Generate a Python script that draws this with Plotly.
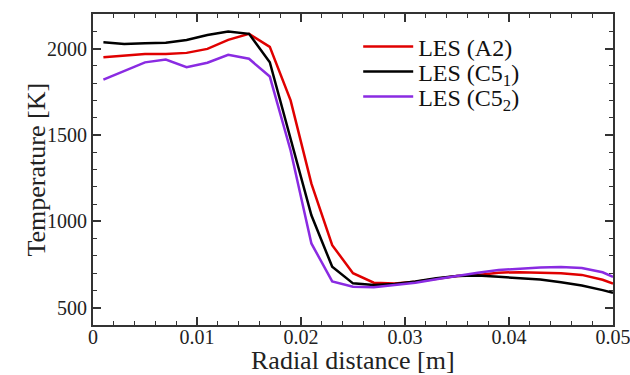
import plotly.graph_objects as go

x_m = [0.001, 0.003, 0.005, 0.007, 0.009, 0.011, 0.013, 0.015, 0.017, 0.019,
       0.021, 0.023, 0.025, 0.027, 0.029, 0.031, 0.033, 0.035, 0.037, 0.039,
       0.041, 0.043, 0.045, 0.047, 0.049, 0.050]

T_A2 = [1950, 1958, 1969, 1969, 1975, 1998, 2050, 2085, 2010, 1700,
        1218, 862, 700, 645, 640, 650, 668, 683, 690, 703,
        706, 703, 700, 690, 662, 640]

T_C5_1 = [2036, 2027, 2030, 2033, 2050, 2079, 2098, 2085, 1921, 1480,
          1035, 737, 641, 631, 637, 652, 670, 683, 686, 679,
          673, 664, 648, 629, 602, 587]

T_C5_2 = [1820, 1868, 1920, 1936, 1892, 1918, 1964, 1941, 1838, 1410,
          872, 652, 621, 618, 632, 644, 665, 685, 703, 718,
          727, 733, 735, 730, 705, 678]

x_tickvals = [0, 0.01, 0.02, 0.03, 0.04, 0.0499999]
x_ticktext = ["0", "0.01", "0.02", "0.03", "0.04", "0.05"]
y_tickvals = [500, 1000, 1500, 2000]

names = ["LES (A2)", "LES (C5<sub>1</sub>)", "LES (C5<sub>2</sub>)"]
colors = ["#e00000", "#000000", "#8a2be2"]
series = [T_A2, T_C5_1, T_C5_2]
legends = ["legend", "legend2", "legend3"]

FONT = "Liberation Serif"

fig = go.Figure()
for name, col, ys, lg in zip(names, colors, series, legends):
    fig.add_trace(go.Scatter(x=x_m, y=ys, mode="lines", name=name,
                             line=dict(color=col, width=2.5), legend=lg))

leg_common = dict(font=dict(family=FONT, size=24, color="#111"),
                  bgcolor="rgba(0,0,0,0)", borderwidth=0,
                  xanchor="left", yanchor="middle", itemwidth=50,
                  tracegroupgap=0)
ys_leg = [47, 72, 97]
top, bottom = 14, 325
left, right = 93, 613
for lg, yp in zip(legends, ys_leg):
    yfrac = (bottom - yp) / (bottom - top)
    fig.update_layout(**{lg: dict(x=0.51, y=yfrac, **leg_common)})

axis_common = dict(showline=True, linecolor="#333", linewidth=2, mirror="ticks",
                   ticks="inside", ticklen=8, tickwidth=1.5, tickcolor="#333",
                   showgrid=False, zeroline=False, automargin=False,
                   ticklabeloverflow="allow",
                   tickfont=dict(family=FONT, size=20, color="#222"))

fig.update_xaxes(range=[0, 0.05], tickvals=x_tickvals, ticktext=x_ticktext,
                 ticklabelstandoff=-7,
                 minor=dict(ticks="inside", dtick=0.002, ticklen=4, tickcolor="#333", tickwidth=1),
                 **axis_common)
fig.update_yaxes(range=[400, 2200], tickvals=y_tickvals,
                 minor=dict(ticks="inside", tickvals=list(range(400, 2201, 100)), ticklen=4,
                            tickcolor="#333", tickwidth=1),
                 **axis_common)

fig.add_annotation(text="Temperature [K]", textangle=-90, showarrow=False,
                   xref="paper", yref="paper", x=(36 - left) / (right - left), y=0.5,
                   xanchor="center", yanchor="middle",
                   font=dict(family=FONT, size=26, color="#222"))
fig.add_annotation(text="Radial distance [m]", showarrow=False,
                   xref="paper", yref="paper", x=0.5, y=(bottom - 360) / (bottom - top),
                   xanchor="center", yanchor="middle",
                   font=dict(family=FONT, size=26, color="#222"))

fig.update_layout(width=630, height=375, margin=dict(l=93, r=17, t=14, b=50),
                  plot_bgcolor="white", paper_bgcolor="white", showlegend=True,
                  font=dict(family=FONT))

fig.write_html("out.html")
